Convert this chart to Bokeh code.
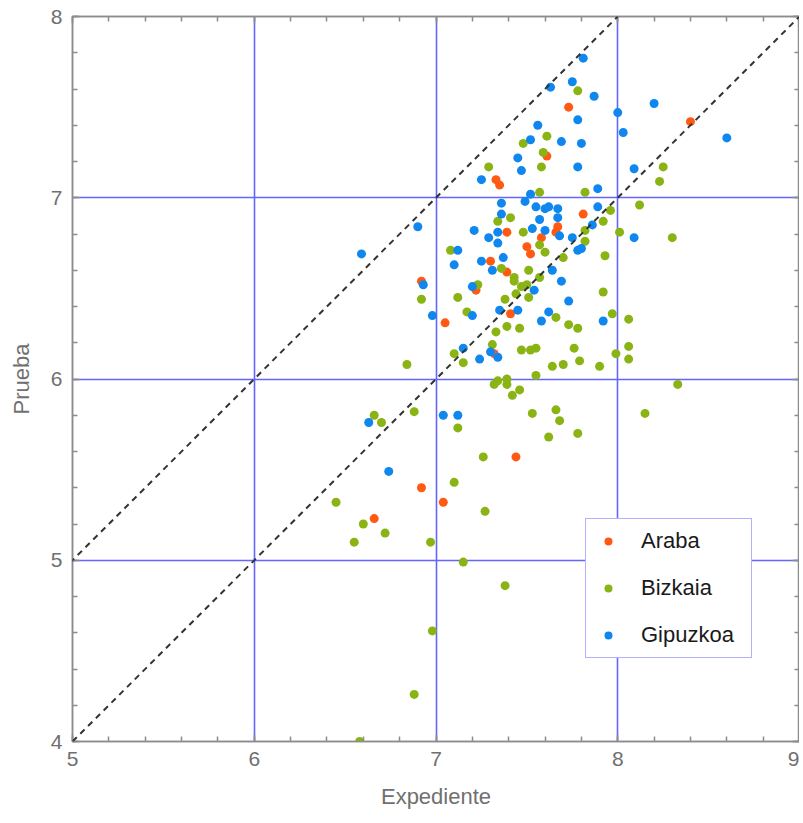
from bokeh.plotting import figure
from bokeh.models import (Range1d, LinearAxis, FixedTicker, Slope, Legend, LegendItem,
                          ColumnDataSource)
from bokeh.embed import file_html
from bokeh.resources import INLINE

# ---- data (Expediente, Prueba) ----
araba_x = [7.73, 8.40, 7.61, 7.33, 7.35, 7.81, 7.67, 7.66, 7.39, 7.58, 7.50, 7.52,
           7.30, 7.39, 7.22, 6.92, 7.05, 7.41, 7.32, 7.44, 6.92, 7.04, 6.66]
araba_y = [7.50, 7.42, 7.23, 7.10, 7.07, 6.91, 6.84, 6.81, 6.81, 6.78, 6.73, 6.69,
           6.65, 6.59, 6.49, 6.54, 6.31, 6.36, 6.14, 5.57, 5.40, 5.32, 5.23]

bizkaia_x = [7.78, 7.61, 7.48, 7.59, 7.58, 7.29, 7.57, 7.41, 7.34, 7.48, 7.57, 7.60,
             7.08, 8.25, 8.23, 7.82, 8.12, 7.96, 7.92, 8.01, 8.30, 7.82, 7.82, 7.93,
             7.70, 7.36, 7.43, 7.43, 7.51, 7.57, 7.47, 7.50, 7.44, 7.51, 7.38, 7.23,
             7.12, 6.92, 7.17, 7.66, 7.73, 7.78, 7.39, 7.46, 7.33, 7.31, 7.10, 7.15,
             7.47, 7.52, 7.55, 7.76, 7.79, 7.64, 7.70, 7.55, 7.34, 7.32, 7.39, 7.39,
             7.46, 7.42, 6.84, 6.66, 6.70, 6.88, 7.12, 7.53, 7.66, 7.68, 7.62, 7.78,
             7.92, 7.97, 8.06, 7.90, 7.99, 8.06, 8.06, 8.33, 8.15, 7.26, 7.10, 6.45,
             7.27, 6.60, 6.72, 6.55, 6.97, 7.15, 7.38, 6.98, 6.88, 6.58]
bizkaia_y = [7.59, 7.34, 7.30, 7.25, 7.17, 7.17, 7.03, 6.89, 6.87, 6.81, 6.74, 6.70,
             6.71, 7.17, 7.09, 7.03, 6.96, 6.93, 6.87, 6.81, 6.78, 6.82, 6.76, 6.68,
             6.67, 6.61, 6.56, 6.54, 6.60, 6.56, 6.51, 6.52, 6.47, 6.45, 6.44, 6.52,
             6.45, 6.44, 6.37, 6.34, 6.30, 6.28, 6.29, 6.28, 6.26, 6.19, 6.14, 6.09,
             6.16, 6.16, 6.17, 6.17, 6.10, 6.07, 6.08, 6.02, 5.99, 5.97, 6.00, 5.97,
             5.94, 5.91, 6.08, 5.80, 5.76, 5.82, 5.73, 5.81, 5.83, 5.77, 5.68, 5.70,
             6.48, 6.36, 6.33, 6.07, 6.14, 6.18, 6.11, 5.97, 5.81, 5.57, 5.43, 5.32,
             5.27, 5.20, 5.15, 5.10, 5.10, 4.99, 4.86, 4.61, 4.26, 4.00]

gipuzkoa_x = [7.63, 7.75, 7.81, 7.87, 7.78, 7.56, 7.52, 7.69, 7.45, 7.47, 7.78, 7.25,
              7.52, 7.36, 7.49, 7.55, 7.60, 7.62, 7.67, 7.36, 7.57, 7.67, 7.21, 7.53,
              7.60, 7.68, 7.34, 7.75, 7.29, 7.34, 6.90, 6.59, 7.12, 7.37, 7.25, 8.20,
              8.00, 8.03, 8.60, 7.80, 8.09, 7.89, 7.89, 7.86, 8.09, 7.80, 7.10, 7.31,
              7.64, 7.78, 7.69, 7.54, 7.73, 7.20, 6.93, 6.98, 7.20, 7.35, 7.45, 7.62,
              7.58, 7.15, 7.30, 7.34, 7.24, 6.63, 7.04, 7.12, 7.92, 6.74]
gipuzkoa_y = [7.61, 7.64, 7.77, 7.56, 7.43, 7.40, 7.32, 7.31, 7.22, 7.15, 7.17, 7.10,
              7.02, 6.97, 6.98, 6.95, 6.94, 6.95, 6.94, 6.91, 6.88, 6.89, 6.82, 6.83,
              6.82, 6.79, 6.81, 6.78, 6.78, 6.75, 6.84, 6.69, 6.71, 6.67, 6.65, 7.52,
              7.47, 7.36, 7.33, 7.30, 7.16, 7.05, 6.95, 6.85, 6.78, 6.72, 6.63, 6.60,
              6.60, 6.71, 6.54, 6.49, 6.43, 6.51, 6.52, 6.35, 6.35, 6.38, 6.38, 6.37,
              6.32, 6.17, 6.15, 6.12, 6.11, 5.76, 5.80, 5.80, 6.32, 5.49]

series_names = ["Araba", "Bizkaia", "Gipuzkoa"]
series_colors = ["#ff5a14", "#8ab414", "#0f87ee"]

x_ticks = [5, 6, 7, 8, 9]
y_ticks = [4, 5, 6, 7, 8]

FONT = "Liberation Sans"
GRAY = "#707070"
FRAME = "#8c8c8c"
BLUE = "#6464ff"

p = figure(frame_width=727, frame_height=725, output_backend="svg", toolbar_location=None,
           x_range=Range1d(5, 9), y_range=Range1d(4, 8),
           min_border_left=72, min_border_right=0, min_border_top=16, min_border_bottom=10)
p.background_fill_color = "white"
p.border_fill_color = "white"
p.outline_line_color = FRAME
p.outline_line_width = 1.5

# grid only at interior integers
p.xgrid.ticker = FixedTicker(ticks=x_ticks[1:-1])
p.ygrid.ticker = FixedTicker(ticks=y_ticks[1:-1])
for g in (p.xgrid, p.ygrid):
    g.grid_line_color = BLUE
    g.grid_line_width = 1.6

def style_axis(ax, show_labels):
    ax.axis_line_color = FRAME
    ax.axis_line_width = 1.5
    ax.major_tick_line_color = FRAME
    ax.minor_tick_line_color = FRAME
    ax.major_tick_line_width = 1.5
    ax.minor_tick_line_width = 1.5
    ax.major_tick_in = 7
    ax.major_tick_out = 0
    ax.minor_tick_in = 5
    ax.minor_tick_out = 0
    if show_labels:
        ax.major_label_text_font = FONT
        ax.major_label_text_font_size = "21px"
        ax.major_label_text_color = GRAY
        ax.major_label_standoff = 10
        ax.axis_label_text_font = FONT
        ax.axis_label_text_font_size = "22px"
        ax.axis_label_text_font_style = "normal"
        ax.axis_label_text_color = GRAY
    else:
        ax.major_label_text_font_size = "0px"
        ax.major_label_standoff = 0
        ax.major_label_text_color = None

x_minor = [5 + 0.2 * i for i in range(21)]
y_minor = [4 + 0.2 * i for i in range(21)]
p.xaxis.ticker = FixedTicker(ticks=x_ticks, minor_ticks=x_minor)
p.yaxis.ticker = FixedTicker(ticks=y_ticks, minor_ticks=y_minor)
p.xaxis.axis_label = "Expediente"
p.yaxis.axis_label = "Prueba"
p.xaxis.axis_label_standoff = 15
p.yaxis.axis_label_standoff = 14
style_axis(p.xaxis[0], True)
style_axis(p.yaxis[0], True)

top_ax = LinearAxis(ticker=FixedTicker(ticks=x_ticks, minor_ticks=x_minor))
right_ax = LinearAxis(ticker=FixedTicker(ticks=y_ticks, minor_ticks=y_minor))
style_axis(top_ax, False)
style_axis(right_ax, False)
p.add_layout(top_ax, "above")
p.add_layout(right_ax, "right")

# reference diagonals
p.add_layout(Slope(gradient=1, y_intercept=0, line_color="#333333", line_width=2, line_dash="6 5"))
p.add_layout(Slope(gradient=1, y_intercept=-1, line_color="#333333", line_width=2, line_dash="6 5"))

items = []
for name, color, xs, ys in zip(series_names, series_colors,
                               [araba_x, bizkaia_x, gipuzkoa_x],
                               [araba_y, bizkaia_y, gipuzkoa_y]):
    src = ColumnDataSource(dict(x=xs, y=ys))
    r = p.scatter("x", "y", source=src, size=9, fill_color=color, line_color=None)
    items.append(LegendItem(label=name, renderers=[r]))

legend = Legend(items=items, location=(513, 83), orientation="vertical",
                border_line_color=BLUE, border_line_width=1.5,
                background_fill_color="white", background_fill_alpha=1.0,
                padding=9, spacing=21, glyph_width=26, glyph_height=20,
                label_height=20, label_width=101, label_standoff=20,
                label_text_font=FONT, label_text_font_size="22px",
                label_text_color="#1a1a1a", margin=0)
p.add_layout(legend, "center")

open("out.html", "w").write(file_html(p, INLINE))
